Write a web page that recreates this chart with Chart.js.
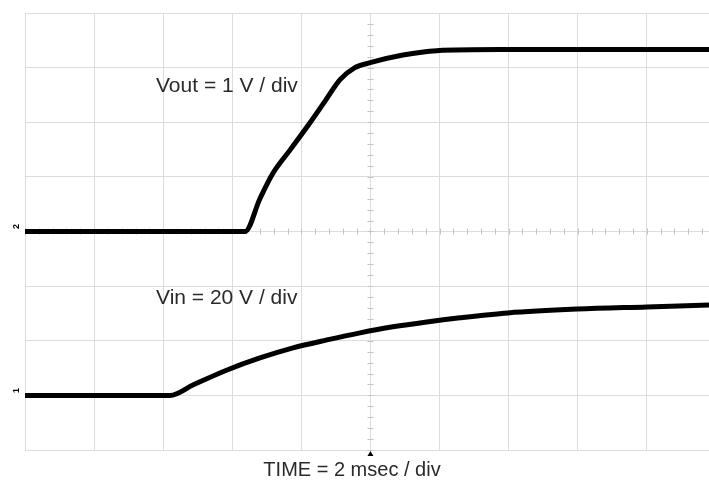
<!DOCTYPE html>
<html>
<head>
<meta charset="utf-8">
<script src="https://cdn.jsdelivr.net/npm/chart.js@4"></script>
<style>
  html, body { margin: 0; padding: 0; background: #fff; }
  #wrap { width: 709px; height: 481px; }
</style>
</head>
<body>
<div id="wrap"><canvas id="chart" width="709" height="481"></canvas></div>
<script>
// time in ms (2 ms / div), volts per channel
const voutTime  = [0, 6.37, 6.8, 7.18, 7.67, 8.25, 8.71, 9.12, 9.55, 9.99, 10.94, 11.92, 13.75, 19.8];
const voutVolts = [0, 0, 0.6, 1.07, 1.49, 1.99, 2.41, 2.78, 3.0, 3.09, 3.23, 3.31, 3.33, 3.33];
const vinTime   = [0, 4.2, 4.86, 5.85, 6.8, 7.76, 8.74, 9.7, 10.65, 11.63, 12.59, 13.98, 15.98, 18.0, 19.8];
const vinVolts  = [0, 0, 3.8, 9.3, 13.7, 17.4, 20.3, 22.9, 25.1, 26.9, 28.4, 30.2, 31.6, 32.4, 33.1];

// scope settings: volts per division and ground level (in divisions)
const voutPerDiv = 1, voutGround = 4;
const vinPerDiv = 20, vinGround = 1;

const toPoints = (t, v, perDiv, gnd) => t.map((x, i) => ({ x: x, y: v[i] / perDiv + gnd }));

const gridColor = '#dcdcdc';

const scopeDecor = {
  id: 'scopeDecor',
  beforeDatasetsDraw(chart) {
    const { ctx, scales: { x, y } } = chart;
    const cx = x.getPixelForValue(10), cy = y.getPixelForValue(4);
    ctx.save();
    ctx.strokeStyle = '#c4c4c4';
    ctx.lineWidth = 1;
    // minor ticks along centre axes
    for (let t = 0; t <= 19.8; t += 0.4) {
      const px = Math.round(x.getPixelForValue(t)) + 0.5;
      ctx.beginPath(); ctx.moveTo(px, cy - 3); ctx.lineTo(px, cy + 3); ctx.stroke();
    }
    for (let d = 0; d <= 8; d += 0.2) {
      const py = Math.round(y.getPixelForValue(d)) + 0.5;
      ctx.beginPath(); ctx.moveTo(cx - 3, py); ctx.lineTo(cx + 3, py); ctx.stroke();
    }
    ctx.restore();
  },
  afterDatasetsDraw(chart) {
    const { ctx, scales: { x, y } } = chart;
    const cx = x.getPixelForValue(10);
    ctx.save();
    // trigger marker
    ctx.fillStyle = '#000';
    ctx.beginPath();
    ctx.moveTo(cx - 3, y.bottom + 6); ctx.lineTo(cx + 3, y.bottom + 6); ctx.lineTo(cx, y.bottom + 1);
    ctx.fill();
    // channel ground markers
    ctx.font = 'bold 9px "Liberation Sans", Arial, sans-serif';
    ctx.textAlign = 'center';
    ctx.textBaseline = 'middle';
    [[voutGround, '2'], [vinGround, '1']].forEach(([g, s]) => {
      ctx.save();
      ctx.translate(17, y.getPixelForValue(g) - 5);
      ctx.rotate(-Math.PI / 2);
      ctx.fillText(s, 0, 0);
      ctx.restore();
    });
    // labels
    ctx.fillStyle = '#2a2a2a';
    ctx.font = '21px "Liberation Sans", Arial, sans-serif';
    ctx.textAlign = 'left';
    ctx.fillText('Vout = 1 V / div', 156, 86);
    ctx.fillText('Vin = 20 V / div', 156, 298);
    ctx.textAlign = 'center';
    ctx.font = '20px "Liberation Sans", Arial, sans-serif';
    ctx.fillText('TIME = 2 msec / div', 352, 470);
    ctx.restore();
  }
};

new Chart(document.getElementById('chart').getContext('2d'), {
  type: 'line',
  data: {
    datasets: [{
      label: 'Vout',
      data: toPoints(voutTime, voutVolts, voutPerDiv, voutGround),
      borderColor: '#000',
      borderWidth: 5,
      pointRadius: 0,
      cubicInterpolationMode: 'monotone'
    }, {
      label: 'Vin',
      data: toPoints(vinTime, vinVolts, vinPerDiv, vinGround),
      borderColor: '#000',
      borderWidth: 5,
      pointRadius: 0,
      cubicInterpolationMode: 'monotone'
    }]
  },
  options: {
    responsive: false,
    animation: false,
    layout: { padding: { left: 25, top: 13, right: 0, bottom: 31 } },
    plugins: { legend: { display: false }, tooltip: { enabled: false } },
    scales: {
      x: {
        type: 'linear',
        min: 0,
        max: 19.8,
        ticks: { display: false, stepSize: 2, includeBounds: false },
        grid: { color: gridColor, drawTicks: false },
        border: { display: false }
      },
      y: {
        min: 0,
        max: 8,
        ticks: { display: false, stepSize: 1 },
        grid: { color: gridColor, drawTicks: false },
        border: { display: false }
      }
    }
  },
  plugins: [scopeDecor]
});
</script>
</body>
</html>
